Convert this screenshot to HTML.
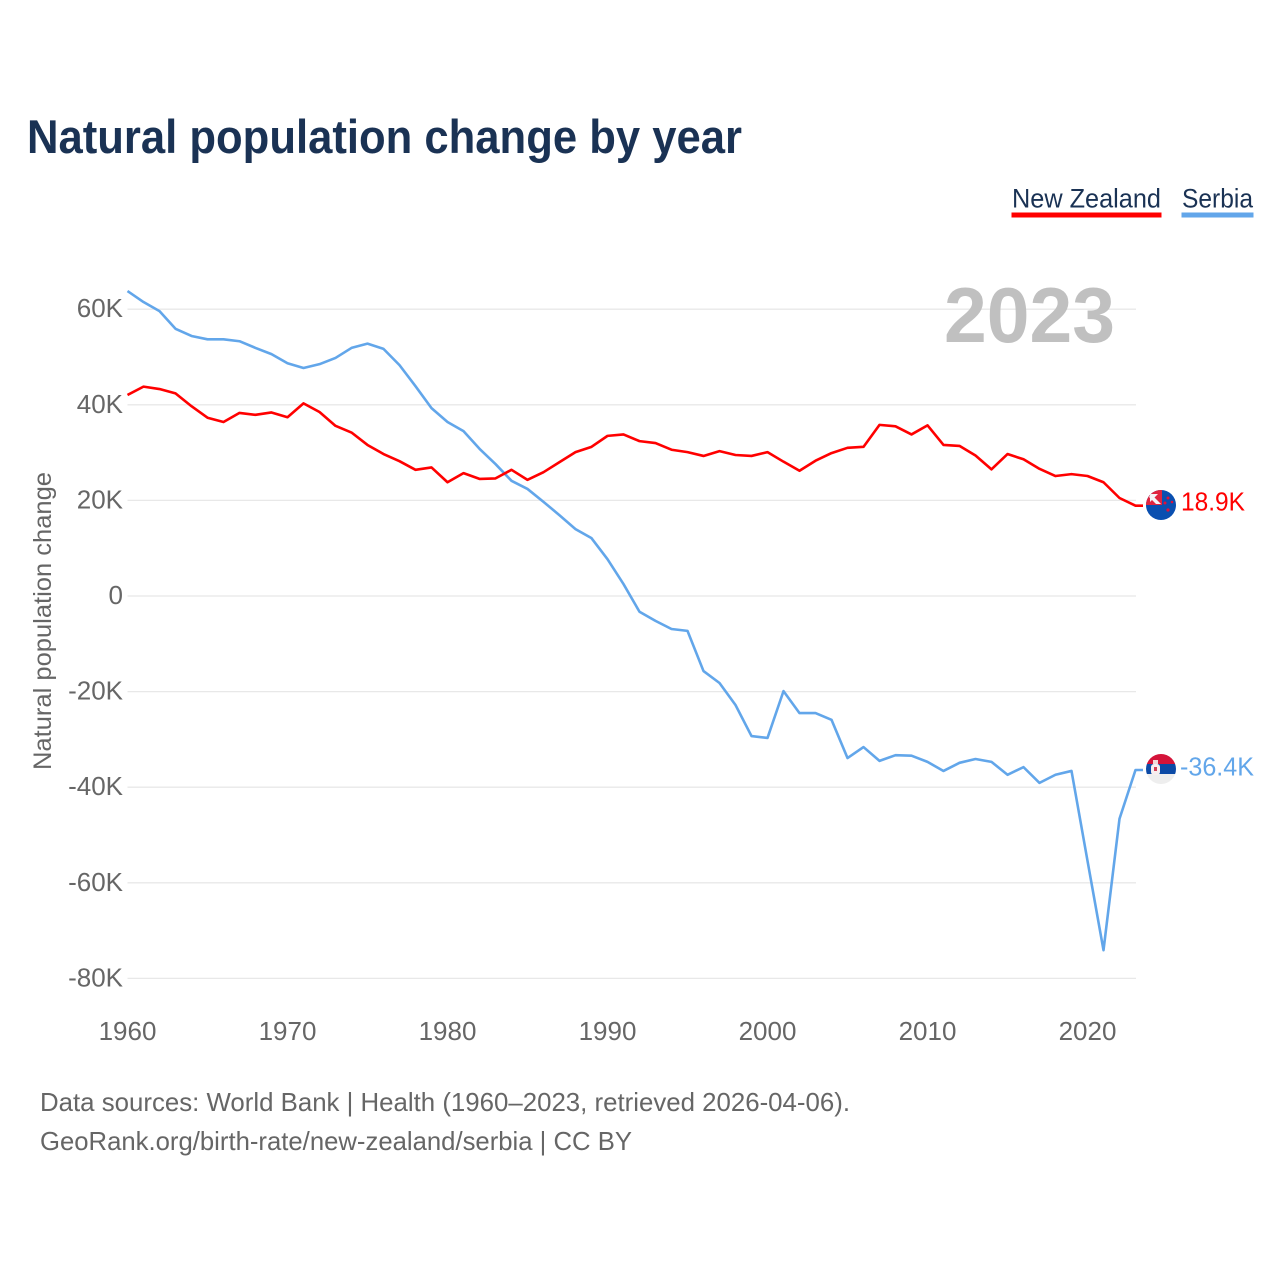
<!DOCTYPE html>
<html lang="en">
<head>
<meta charset="utf-8">
<title>Natural population change by year</title>
<style>
html,body{margin:0;padding:0;background:#fff;}
svg{display:block;font-family:"Liberation Sans",sans-serif;}
</style>
</head>
<body>
<svg id="chart" xmlns="http://www.w3.org/2000/svg" width="1280" height="1280" viewBox="0 0 1280 1280">
  <defs>
    <clipPath id="nz-clip"><circle cx="1161" cy="505" r="15"/></clipPath>
    <clipPath id="rs-clip"><circle cx="1161" cy="769" r="15"/></clipPath>
  </defs>
  <rect x="0" y="0" width="1280" height="1280" fill="#ffffff"/>
  <text x="27" y="153" font-size="47" font-weight="700" fill="#1a3254" textLength="715" lengthAdjust="spacingAndGlyphs">Natural population change by year</text>

  <g>
    <g>
      <text x="1012" y="207.500" font-size="27" fill="#1a3254" textLength="149" lengthAdjust="spacingAndGlyphs">New Zealand</text>
      <rect x="1011.500" y="212.500" width="150" height="5" fill="#ff0000"/>
    </g>
    <g>
      <text x="1182" y="207.500" font-size="27" fill="#1a3254" textLength="71" lengthAdjust="spacingAndGlyphs">Serbia</text>
      <rect x="1181.500" y="212.500" width="72" height="5" fill="#62a6ea"/>
    </g>
  </g>

  <g id="grid"></g>
  <g id="yticks"></g>
  <g id="xticks"></g>

  <text x="1115" y="342" text-anchor="end" font-size="78" font-weight="700" fill="#c0c0c0" textLength="171" lengthAdjust="spacingAndGlyphs">2023</text>

  <text transform="translate(51 770) rotate(-90)" x="0" y="0" font-size="25" fill="#666666" textLength="298" lengthAdjust="spacingAndGlyphs">Natural population change</text>

  <g id="series"></g>

  <g clip-path="url(#nz-clip)">
    <rect x="1146" y="490" width="30" height="30" fill="#0a4fb0"/>
    <rect x="1146" y="490" width="16" height="15" fill="#e0243f"/>
    <path d="M1151 494 L1161 504 L1156 504 L1149 497 Z" fill="#f4f4f8"/>
    <path d="M1150 494 H1158 L1150 502 Z" fill="#f4f4f8"/>
    <circle cx="1168" cy="498" r="1.500" fill="#e0103a"/>
    <circle cx="1165" cy="503" r="1.500" fill="#e0103a"/>
    <circle cx="1172" cy="502" r="1.300" fill="#e0103a"/>
    <circle cx="1168" cy="510" r="1.600" fill="#e0103a"/>
  </g>
  <g clip-path="url(#rs-clip)">
    <rect x="1146" y="754" width="30" height="10" fill="#d4143a"/>
    <rect x="1146" y="764" width="30" height="10" fill="#0c4aa6"/>
    <rect x="1146" y="774" width="30" height="10" fill="#eeeeee"/>
    <rect x="1151" y="764" width="9" height="11" rx="3" fill="#f6eeee"/>
    <rect x="1153" y="760" width="5" height="4" fill="#f0d8d8"/>
    <rect x="1154" y="767" width="3" height="4" fill="#d04058"/>
  </g>

  <text x="1181" y="510.500" font-size="26" fill="#ff0000" textLength="64" lengthAdjust="spacingAndGlyphs">18.9K</text>
  <text x="1180" y="775.500" font-size="26" fill="#62a6ea" textLength="74" lengthAdjust="spacingAndGlyphs">-36.4K</text>

  <text x="40" y="1111" font-size="26" fill="#666666" textLength="810" lengthAdjust="spacingAndGlyphs">Data sources: World Bank | Health (1960–2023, retrieved 2026-04-06).</text>
  <text x="40" y="1150" font-size="26" fill="#666666" textLength="592" lengthAdjust="spacingAndGlyphs">GeoRank.org/birth-rate/new-zealand/serbia | CC BY</text>
</svg>
<script>
var startYear = 1960;
var yTickValues = [60, 40, 20, 0, -20, -40, -60, -80];
var yTickLabels = ["60K", "40K", "20K", "0", "-20K", "-40K", "-60K", "-80K"];
var xTickValues = [1960, 1970, 1980, 1990, 2000, 2010, 2020];
var newZealand = [42.05,43.8,43.3,42.4,39.7,37.3,36.4,38.3,37.9,38.4,37.4,40.3,38.5,35.6,34.2,31.6,29.7,28.2,26.4,26.9,23.8,25.7,24.5,24.6,26.4,24.3,25.9,28.0,30.1,31.2,33.5,33.8,32.4,32.0,30.6,30.1,29.3,30.3,29.5,29.3,30.1,28.1,26.2,28.3,29.9,31.0,31.2,35.8,35.5,33.8,35.7,31.6,31.4,29.4,26.5,29.7,28.6,26.6,25.1,25.5,25.1,23.8,20.5,18.9];
var serbia = [63.8,61.5,59.6,55.9,54.4,53.7,53.7,53.3,51.9,50.6,48.7,47.7,48.5,49.8,51.9,52.8,51.7,48.3,43.9,39.3,36.4,34.5,30.8,27.6,24.1,22.4,19.7,16.9,14.0,12.1,7.7,2.5,-3.3,-5.2,-6.9,-7.3,-15.7,-18.2,-22.8,-29.3,-29.7,-19.9,-24.5,-24.5,-25.9,-33.9,-31.6,-34.5,-33.3,-33.4,-34.7,-36.6,-34.9,-34.1,-34.7,-37.4,-35.8,-39.1,-37.4,-36.6,-55.4,-74.1,-46.6,-36.4];

var SVG_NS = "http://www.w3.org/2000/svg";
var plotLeft = 127.5;
var plotRight = 1136;
function xScale(year) { return plotLeft + (year - startYear) * 16; }
function yScale(value) { return 596 - value * 4.78; }

var grid = document.getElementById("grid");
var yticks = document.getElementById("yticks");
var xticks = document.getElementById("xticks");
var seriesGroup = document.getElementById("series");

yTickValues.forEach(function (v, i) {
  var line = document.createElementNS(SVG_NS, "line");
  line.setAttribute("x1", plotLeft);
  line.setAttribute("x2", plotRight);
  line.setAttribute("y1", yScale(v));
  line.setAttribute("y2", yScale(v));
  line.setAttribute("stroke", "#e8e8e8");
  line.setAttribute("stroke-width", "1.300");
  
  
  grid.appendChild(line);

  var label = document.createElementNS(SVG_NS, "text");
  label.setAttribute("x", 123);
  label.setAttribute("y", yScale(v) + 8);
  label.setAttribute("text-anchor", "end");
  label.setAttribute("font-size", "26");
  label.setAttribute("fill", "#666666");
  label.textContent = yTickLabels[i];
  
  
  yticks.appendChild(label);
});

xTickValues.forEach(function (year) {
  var label = document.createElementNS(SVG_NS, "text");
  label.setAttribute("x", xScale(year));
  label.setAttribute("y", 1040);
  label.setAttribute("text-anchor", "middle");
  label.setAttribute("font-size", "26");
  label.setAttribute("fill", "#666666");
  label.textContent = String(year);
  
  
  xticks.appendChild(label);
});

function drawSeries(values, color, name) {
  var pts = values.map(function (v, i) {
    return xScale(startYear + i).toFixed(2) + "," + yScale(v).toFixed(2);
  });
  var last = yScale(values[values.length - 1]).toFixed(2);
  pts.push("1143," + last);
  var line = document.createElementNS(SVG_NS, "polyline");
  line.setAttribute("points", pts.join(" "));
  line.setAttribute("fill", "none");
  line.setAttribute("stroke", color);
  line.setAttribute("stroke-width", "2.600");
  line.setAttribute("stroke-linejoin", "round");
  
  
  seriesGroup.appendChild(line);
}
drawSeries(serbia, "#62a6ea", "line-serbia");
drawSeries(newZealand, "#ff0000", "line-new-zealand");
</script>
</body>
</html>
